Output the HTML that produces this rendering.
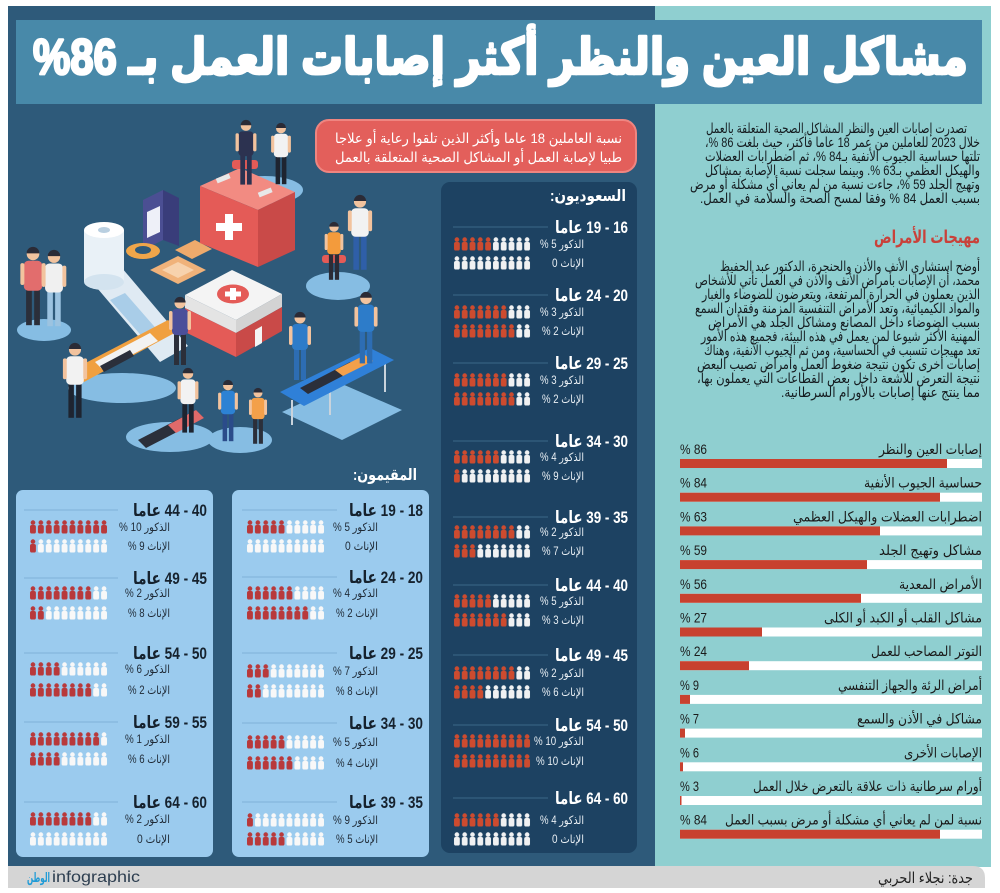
<!DOCTYPE html>
<html lang="ar"><head><meta charset="utf-8"><title>مشاكل العين والنظر أكثر إصابات العمل</title>
<style>
html,body{margin:0;padding:0;background:#fff;}
svg{display:block;}
svg text{direction:rtl;unicode-bidi:embed;text-anchor:middle;font-family:"Liberation Sans","DejaVu Sans",sans-serif;}
.w{fill:#ffffff}
.d{fill:#1f2a30}
.b{font-weight:bold}
.sl{fill:#e9eff4;font-size:11.5px}
.rl{fill:#1f2a36;font-size:11.5px}
.sh{fill:#ffffff;font-size:17px;font-weight:bold}
.rh{fill:#16222e;font-size:17px;font-weight:bold}
.p{fill:#151c20;font-size:14px}
.bl{fill:#1b1b1b;font-size:14px}
</style></head>
<body>
<svg width="1000" height="893" viewBox="0 0 1000 893" xmlns="http://www.w3.org/2000/svg">
<defs>
<pattern id="sr" width="7.8" height="14" patternUnits="userSpaceOnUse"><circle cx="3.9" cy="2.6" r="2.3" fill="#cd4b2f"/><rect x="1" y="5" width="5.8" height="8.5" rx="1.8" fill="#cd4b2f"/></pattern>
<pattern id="sw" width="7.8" height="14" patternUnits="userSpaceOnUse"><circle cx="3.9" cy="2.6" r="2.3" fill="#f0f1f2"/><rect x="1" y="5" width="5.8" height="8.5" rx="1.8" fill="#f0f1f2"/></pattern>
<pattern id="rr" width="7.9" height="14" patternUnits="userSpaceOnUse"><circle cx="3.95" cy="2.6" r="2.3" fill="#b8393b"/><rect x="1" y="5" width="5.9" height="8.5" rx="1.8" fill="#b8393b"/></pattern>
<pattern id="rw" width="7.9" height="14" patternUnits="userSpaceOnUse"><circle cx="3.95" cy="2.6" r="2.3" fill="#f8f8f8"/><rect x="1" y="5" width="5.9" height="8.5" rx="1.8" fill="#f8f8f8"/></pattern>
<g id="per">
 <rect x="-6" y="36" width="5" height="32" fill="var(--p)"/>
 <rect x="1" y="36" width="5" height="32" fill="var(--p)"/>
 <rect x="-8" y="12" width="16" height="26" rx="4" fill="var(--s)"/>
 <rect x="-11" y="14" width="3.5" height="19" rx="1.7" fill="#f2c39e"/>
 <rect x="7.5" y="14" width="3.5" height="19" rx="1.7" fill="#f2c39e"/>
 <circle cx="0" cy="6" r="5.5" fill="#f2c39e"/>
 <path d="M-5.6,5.5 A5.6,5.6 0 0 1 5.6,5.5 Z" fill="#2b2b36"/>
</g>
</defs>

<!-- panels -->
<rect x="8" y="6" width="647" height="861" fill="#2e5a7a"/>
<rect x="655" y="6" width="336" height="861" fill="#8fcfd0"/>
<rect x="16" y="20" width="966" height="84" fill="#4889a9"/>
<text x="500.5" y="74" textLength="935" lengthAdjust="spacingAndGlyphs" font-size="50" class="w b" stroke="#fff" stroke-width="2.6" stroke-linejoin="round">مشاكل العين والنظر أكثر إصابات العمل بـ 86%</text>

<!-- footer -->
<path d="M8,866 H973 Q985,866 985,878 V888 H8 Z" fill="#d5d5d5"/>
<text x="925.5" y="883" textLength="95" lengthAdjust="spacingAndGlyphs" font-size="15" fill="#222">جدة: نجلاء الحربي</text>
<text x="38.5" y="882" textLength="23" lengthAdjust="spacingAndGlyphs" font-size="13" class="b" fill="#1f9bd7">الوطن</text>
<text x="96" y="882" textLength="88" lengthAdjust="spacingAndGlyphs" font-size="16" fill="#2d3e50" style="direction:ltr">infographic</text>

<!-- illustration -->
<g fill="#86bde3">
<ellipse cx="265" cy="190" rx="38" ry="14"/>
<ellipse cx="338" cy="286" rx="32" ry="14"/>
<ellipse cx="44" cy="330" rx="27" ry="11"/>
<ellipse cx="170" cy="437" rx="44" ry="15"/>
<ellipse cx="240" cy="440" rx="32" ry="13"/>
<ellipse cx="122" cy="388" rx="54" ry="15"/>
<polygon points="282,412 342,384 402,410 342,440"/>
</g>
<!-- bandage strip & roll -->
<polygon points="92,282 122,268 188,346 160,362" fill="#dfeaf3"/>
<polygon points="110,300 125,293 160,333 146,341" fill="#a9cde8"/>
<rect x="84" y="230" width="40" height="52" fill="#e9f1f7"/>
<ellipse cx="104" cy="282" rx="20" ry="8" fill="#d3e3ef"/>
<ellipse cx="104" cy="230" rx="20" ry="8" fill="#ffffff"/>
<ellipse cx="104" cy="230" rx="6" ry="3" fill="#b9cfe0"/>
<!-- dispenser -->
<polygon points="143,200 163,190 163,240 143,250" fill="#4b4f93"/>
<polygon points="163,190 179,198 179,246 163,240" fill="#393d7a"/>
<polygon points="147,212 160,206 160,232 147,238" fill="#eef0f8"/>
<!-- tape & plasters -->
<ellipse cx="143" cy="251" rx="17" ry="8" fill="#f0a64a"/>
<ellipse cx="143" cy="250" rx="8" ry="4" fill="#2e5a7a"/>
<polygon points="150,270 178,256 206,270 178,284" fill="#f0b27a"/>
<polygon points="162,270 178,262 194,270 178,278" fill="#f7d2ad"/>
<polygon points="175,250 195,240 212,249 192,259" fill="#eeaa6c"/>
<!-- suitcase -->
<polygon points="200,186 240,168 295,192 258,210" fill="#f28b82"/>
<polygon points="200,186 258,210 258,267 200,243" fill="#e45b57"/>
<polygon points="258,210 295,192 295,250 258,267" fill="#c94a48"/>
<rect x="225" y="214" width="8" height="26" fill="#fff"/>
<rect x="216" y="223" width="26" height="8" fill="#fff"/>
<rect x="216" y="176" width="14" height="5" fill="#e8e8e8" transform="rotate(-22 223 178)"/>
<rect x="258" y="190" width="14" height="5" fill="#e8e8e8" transform="rotate(-22 265 192)"/>
<!-- white box -->
<polygon points="185,295 232,270 282,294 236,320" fill="#f4f4f4"/>
<polygon points="185,295 236,320 236,333 185,308" fill="#e4e4e4"/>
<polygon points="236,320 282,294 282,307 236,333" fill="#d3d3d3"/>
<polygon points="185,308 236,333 236,357 185,332" fill="#e45b57"/>
<polygon points="236,333 282,307 282,331 236,357" fill="#c94a48"/>
<ellipse cx="233" cy="294" rx="16" ry="9.5" fill="#e45b57"/>
<rect x="230" y="288" width="6" height="12" fill="#fff"/>
<rect x="225" y="291.5" width="16" height="5" fill="#fff"/>
<polygon points="255,330 262,326 262,343 255,347" fill="#f4f4f4"/>
<!-- chairs -->
<rect x="232" y="160" width="26" height="9" rx="3" fill="#e45b57"/>
<rect x="322" y="255" width="24" height="8" rx="3" fill="#e45b57"/>
<!-- people -->
<use href="#per" transform="translate(33,247) scale(1.15)" style="--s:#e26d6d;--p:#2b2f3a"/>
<use href="#per" transform="translate(54,250) scale(1.12)" style="--s:#f0f0f0;--p:#9cc3e0"/>
<use href="#per" transform="translate(246,120) scale(0.95)" style="--s:#2c3250;--p:#2c3250"/>
<use href="#per" transform="translate(281,123) scale(0.9)" style="--s:#f2f2f2;--p:#1e2430"/>
<use href="#per" transform="translate(360,195) scale(1.1)" style="--s:#f2f2f2;--p:#2f5fa8"/>
<use href="#per" transform="translate(334,222) scale(0.85)" style="--s:#f39b3c;--p:#2b2b36"/>
<polygon points="72,370 168,320 180,330 84,382" fill="#f0a040"/>
<polygon points="95,362 150,333 158,341 103,370" fill="#f2f2f2"/>
<polygon points="100,366 130,350 134,356 104,372" fill="#2b2f3a"/>
<use href="#per" transform="translate(180,297) scale(1)" style="--s:#4b4f9a;--p:#2b2f3a"/>
<use href="#per" transform="translate(75,343) scale(1.1)" style="--s:#f2f2f2;--p:#1e2430"/>
<polygon points="138,440 196,410 204,418 146,448" fill="#2b2f3a"/>
<polygon points="168,425 196,410 204,418 176,433" fill="#e06a6a"/>
<use href="#per" transform="translate(188,368) scale(0.95)" style="--s:#f2f2f2;--p:#1e2430"/>
<use href="#per" transform="translate(228,380) scale(0.9)" style="--s:#2d82d4;--p:#2b4c8a"/>
<use href="#per" transform="translate(258,388) scale(0.82)" style="--s:#f3a04a;--p:#2b2f3a"/>
<line x1="292" y1="400" x2="292" y2="425" stroke="#c9d3dc" stroke-width="2"/>
<line x1="385" y1="362" x2="385" y2="392" stroke="#c9d3dc" stroke-width="2"/>
<line x1="330" y1="385" x2="330" y2="415" stroke="#c9d3dc" stroke-width="2"/>
<polygon points="280,392 370,348 394,360 304,406" fill="#2f80d8"/>
<polygon points="300,388 350,362 358,368 308,394" fill="#2b2f3a"/>
<polygon points="335,370 365,355 373,361 343,376" fill="#f3a04a"/>
<use href="#per" transform="translate(300,312) scale(1)" style="--s:#2d7cc9;--p:#2d6db3"/>
<use href="#per" transform="translate(366,292) scale(1.05)" style="--s:#2d7cc9;--p:#2d6db3"/>

<!-- callout -->
<rect x="316" y="120" width="320" height="52" rx="13" fill="#e35f5b" stroke="#ef8580" stroke-width="2"/>
<text x="478.5" y="143" textLength="287" lengthAdjust="spacingAndGlyphs" font-size="14" class="w">نسبة العاملين 18 عاما وأكثر الذين تلقوا رعاية أو علاجا</text>
<text x="478.5" y="162" textLength="287" lengthAdjust="spacingAndGlyphs" font-size="14" class="w">طبيا لإصابة العمل أو المشاكل الصحية المتعلقة بالعمل</text>

<!-- Saudi box -->
<rect x="441" y="182" width="196" height="671" rx="9" fill="#1d4262"/>
<text x="588" y="201" textLength="76" lengthAdjust="spacingAndGlyphs" font-size="16" class="w b">السعوديون:</text>
<g stroke="#3c6888" stroke-width="1">
<line x1="453" x2="548" y1="227" y2="227"/><line x1="453" x2="548" y1="295" y2="295"/><line x1="453" x2="548" y1="363" y2="363"/>
<line x1="453" x2="548" y1="441" y2="441"/><line x1="453" x2="548" y1="517" y2="517"/><line x1="453" x2="548" y1="585" y2="585"/>
<line x1="453" x2="548" y1="655" y2="655"/><line x1="453" x2="548" y1="725" y2="725"/><line x1="453" x2="548" y1="798" y2="798"/>
</g>
<text x="591.5" y="233" textLength="73" lengthAdjust="spacingAndGlyphs" class="sh">16 - 19 عاما</text>
<text x="591.5" y="301" textLength="73" lengthAdjust="spacingAndGlyphs" class="sh">20 - 24 عاما</text>
<text x="591.5" y="369" textLength="73" lengthAdjust="spacingAndGlyphs" class="sh">25 - 29 عاما</text>
<text x="591.5" y="447" textLength="73" lengthAdjust="spacingAndGlyphs" class="sh">30 - 34 عاما</text>
<text x="591.5" y="523" textLength="73" lengthAdjust="spacingAndGlyphs" class="sh">35 - 39 عاما</text>
<text x="591.5" y="591" textLength="73" lengthAdjust="spacingAndGlyphs" class="sh">40 - 44 عاما</text>
<text x="591.5" y="661" textLength="73" lengthAdjust="spacingAndGlyphs" class="sh">45 - 49 عاما</text>
<text x="591.5" y="731" textLength="73" lengthAdjust="spacingAndGlyphs" class="sh">50 - 54 عاما</text>
<text x="591.5" y="804" textLength="73" lengthAdjust="spacingAndGlyphs" class="sh">60 - 64 عاما</text>
<!-- Saudi labels -->
<text x="562" y="248" textLength="44" lengthAdjust="spacingAndGlyphs" class="sl">الذكور 5 %</text>
<text x="568" y="267" textLength="32" lengthAdjust="spacingAndGlyphs" class="sl">الإناث 0</text>
<text x="562" y="316" textLength="44" lengthAdjust="spacingAndGlyphs" class="sl">الذكور 3 %</text>
<text x="563" y="335" textLength="42" lengthAdjust="spacingAndGlyphs" class="sl">الإناث 2 %</text>
<text x="562" y="384" textLength="44" lengthAdjust="spacingAndGlyphs" class="sl">الذكور 3 %</text>
<text x="563" y="403" textLength="42" lengthAdjust="spacingAndGlyphs" class="sl">الإناث 2 %</text>
<text x="562" y="461" textLength="44" lengthAdjust="spacingAndGlyphs" class="sl">الذكور 4 %</text>
<text x="563" y="480" textLength="42" lengthAdjust="spacingAndGlyphs" class="sl">الإناث 9 %</text>
<text x="562" y="536" textLength="44" lengthAdjust="spacingAndGlyphs" class="sl">الذكور 2 %</text>
<text x="563" y="555" textLength="42" lengthAdjust="spacingAndGlyphs" class="sl">الإناث 7 %</text>
<text x="562" y="605" textLength="44" lengthAdjust="spacingAndGlyphs" class="sl">الذكور 5 %</text>
<text x="563" y="624" textLength="42" lengthAdjust="spacingAndGlyphs" class="sl">الإناث 3 %</text>
<text x="562" y="677" textLength="44" lengthAdjust="spacingAndGlyphs" class="sl">الذكور 2 %</text>
<text x="563" y="696" textLength="42" lengthAdjust="spacingAndGlyphs" class="sl">الإناث 6 %</text>
<text x="559" y="745" textLength="50" lengthAdjust="spacingAndGlyphs" class="sl">الذكور 10 %</text>
<text x="560" y="765" textLength="48" lengthAdjust="spacingAndGlyphs" class="sl">الإناث 10 %</text>
<text x="562" y="824" textLength="44" lengthAdjust="spacingAndGlyphs" class="sl">الذكور 4 %</text>
<text x="568" y="843" textLength="32" lengthAdjust="spacingAndGlyphs" class="sl">الإناث 0</text>
<!-- Saudi icons -->
<g transform="translate(453,237)"><rect width="39" height="14" fill="url(#sr)"/><rect x="39" width="39" height="14" fill="url(#sw)"/></g>
<g transform="translate(453,256)"><rect width="78" height="14" fill="url(#sw)"/></g>
<g transform="translate(453,305)"><rect width="54.6" height="14" fill="url(#sr)"/><rect x="54.6" width="23.4" height="14" fill="url(#sw)"/></g>
<g transform="translate(453,324)"><rect width="62.4" height="14" fill="url(#sr)"/><rect x="62.4" width="15.6" height="14" fill="url(#sw)"/></g>
<g transform="translate(453,373)"><rect width="54.6" height="14" fill="url(#sr)"/><rect x="54.6" width="23.4" height="14" fill="url(#sw)"/></g>
<g transform="translate(453,392)"><rect width="62.4" height="14" fill="url(#sr)"/><rect x="62.4" width="15.6" height="14" fill="url(#sw)"/></g>
<g transform="translate(453,450)"><rect width="46.8" height="14" fill="url(#sr)"/><rect x="46.8" width="31.2" height="14" fill="url(#sw)"/></g>
<g transform="translate(453,469)"><rect width="7.8" height="14" fill="url(#sr)"/><rect x="7.8" width="70.2" height="14" fill="url(#sw)"/></g>
<g transform="translate(453,525)"><rect width="62.4" height="14" fill="url(#sr)"/><rect x="62.4" width="15.6" height="14" fill="url(#sw)"/></g>
<g transform="translate(453,544)"><rect width="23.4" height="14" fill="url(#sr)"/><rect x="23.4" width="54.6" height="14" fill="url(#sw)"/></g>
<g transform="translate(453,594)"><rect width="39" height="14" fill="url(#sr)"/><rect x="39" width="39" height="14" fill="url(#sw)"/></g>
<g transform="translate(453,613)"><rect width="54.6" height="14" fill="url(#sr)"/><rect x="54.6" width="23.4" height="14" fill="url(#sw)"/></g>
<g transform="translate(453,666)"><rect width="62.4" height="14" fill="url(#sr)"/><rect x="62.4" width="15.6" height="14" fill="url(#sw)"/></g>
<g transform="translate(453,685)"><rect width="31.2" height="14" fill="url(#sr)"/><rect x="31.2" width="46.8" height="14" fill="url(#sw)"/></g>
<g transform="translate(453,734)"><rect width="78" height="14" fill="url(#sr)"/></g>
<g transform="translate(453,754)"><rect width="78" height="14" fill="url(#sr)"/></g>
<g transform="translate(453,813)"><rect width="46.8" height="14" fill="url(#sr)"/><rect x="46.8" width="31.2" height="14" fill="url(#sw)"/></g>
<g transform="translate(453,832)"><rect width="78" height="14" fill="url(#sw)"/></g>

<!-- Residents -->
<text x="385" y="480" textLength="64" lengthAdjust="spacingAndGlyphs" font-size="16" class="w b">المقيمون:</text>
<rect x="16" y="490" width="197" height="367" rx="7" fill="#9bcbee"/>
<rect x="232" y="490" width="197" height="367" rx="7" fill="#9bcbee"/>
<g stroke="#7fb2d8" stroke-width="1">
<line x1="242" x2="337" y1="510" y2="510"/><line x1="242" x2="337" y1="577" y2="577"/><line x1="242" x2="337" y1="653" y2="653"/><line x1="242" x2="337" y1="723" y2="723"/><line x1="242" x2="337" y1="802" y2="802"/>
<line x1="24" x2="118" y1="510" y2="510"/><line x1="24" x2="118" y1="578" y2="578"/><line x1="24" x2="118" y1="653" y2="653"/><line x1="24" x2="118" y1="722" y2="722"/><line x1="24" x2="118" y1="802" y2="802"/>
</g>
<text x="386" y="516" textLength="74" lengthAdjust="spacingAndGlyphs" class="rh">18 - 19 عاما</text>
<text x="386" y="583" textLength="74" lengthAdjust="spacingAndGlyphs" class="rh">20 - 24 عاما</text>
<text x="386" y="659" textLength="74" lengthAdjust="spacingAndGlyphs" class="rh">25 - 29 عاما</text>
<text x="386" y="729" textLength="74" lengthAdjust="spacingAndGlyphs" class="rh">30 - 34 عاما</text>
<text x="386" y="808" textLength="74" lengthAdjust="spacingAndGlyphs" class="rh">35 - 39 عاما</text>
<text x="170" y="516" textLength="74" lengthAdjust="spacingAndGlyphs" class="rh">40 - 44 عاما</text>
<text x="170" y="584" textLength="74" lengthAdjust="spacingAndGlyphs" class="rh">45 - 49 عاما</text>
<text x="170" y="659" textLength="74" lengthAdjust="spacingAndGlyphs" class="rh">50 - 54 عاما</text>
<text x="170" y="728" textLength="74" lengthAdjust="spacingAndGlyphs" class="rh">55 - 59 عاما</text>
<text x="170" y="808" textLength="74" lengthAdjust="spacingAndGlyphs" class="rh">60 - 64 عاما</text>
<!-- resident labels right box -->
<text x="355.5" y="531" textLength="45" lengthAdjust="spacingAndGlyphs" class="rl">الذكور 5 %</text>
<text x="361.5" y="550" textLength="33" lengthAdjust="spacingAndGlyphs" class="rl">الإناث 0</text>
<text x="355.5" y="597" textLength="45" lengthAdjust="spacingAndGlyphs" class="rl">الذكور 4 %</text>
<text x="357" y="617" textLength="42" lengthAdjust="spacingAndGlyphs" class="rl">الإناث 2 %</text>
<text x="355.5" y="675" textLength="45" lengthAdjust="spacingAndGlyphs" class="rl">الذكور 7 %</text>
<text x="357" y="695" textLength="42" lengthAdjust="spacingAndGlyphs" class="rl">الإناث 8 %</text>
<text x="355.5" y="746" textLength="45" lengthAdjust="spacingAndGlyphs" class="rl">الذكور 5 %</text>
<text x="357" y="767" textLength="42" lengthAdjust="spacingAndGlyphs" class="rl">الإناث 4 %</text>
<text x="355.5" y="824" textLength="45" lengthAdjust="spacingAndGlyphs" class="rl">الذكور 9 %</text>
<text x="357" y="843" textLength="42" lengthAdjust="spacingAndGlyphs" class="rl">الإناث 5 %</text>
<!-- resident labels left box -->
<text x="144.5" y="531" textLength="51" lengthAdjust="spacingAndGlyphs" class="rl">الذكور 10 %</text>
<text x="149" y="550" textLength="42" lengthAdjust="spacingAndGlyphs" class="rl">الإناث 9 %</text>
<text x="147.5" y="597" textLength="45" lengthAdjust="spacingAndGlyphs" class="rl">الذكور 2 %</text>
<text x="149" y="617" textLength="42" lengthAdjust="spacingAndGlyphs" class="rl">الإناث 8 %</text>
<text x="147.5" y="673" textLength="45" lengthAdjust="spacingAndGlyphs" class="rl">الذكور 6 %</text>
<text x="149" y="694" textLength="42" lengthAdjust="spacingAndGlyphs" class="rl">الإناث 2 %</text>
<text x="147.5" y="743" textLength="45" lengthAdjust="spacingAndGlyphs" class="rl">الذكور 1 %</text>
<text x="149" y="763" textLength="42" lengthAdjust="spacingAndGlyphs" class="rl">الإناث 6 %</text>
<text x="147.5" y="823" textLength="45" lengthAdjust="spacingAndGlyphs" class="rl">الذكور 2 %</text>
<text x="153.5" y="843" textLength="33" lengthAdjust="spacingAndGlyphs" class="rl">الإناث 0</text>
<!-- resident icons right box -->
<g transform="translate(246,520)"><rect width="39.5" height="14" fill="url(#rr)"/><rect x="39.5" width="39.5" height="14" fill="url(#rw)"/></g>
<g transform="translate(246,539)"><rect width="79" height="14" fill="url(#rw)"/></g>
<g transform="translate(246,586)"><rect width="47.4" height="14" fill="url(#rr)"/><rect x="47.4" width="31.6" height="14" fill="url(#rw)"/></g>
<g transform="translate(246,606)"><rect width="63.2" height="14" fill="url(#rr)"/><rect x="63.2" width="15.8" height="14" fill="url(#rw)"/></g>
<g transform="translate(246,664)"><rect width="23.7" height="14" fill="url(#rr)"/><rect x="23.7" width="55.3" height="14" fill="url(#rw)"/></g>
<g transform="translate(246,684)"><rect width="15.8" height="14" fill="url(#rr)"/><rect x="15.8" width="63.2" height="14" fill="url(#rw)"/></g>
<g transform="translate(246,735)"><rect width="39.5" height="14" fill="url(#rr)"/><rect x="39.5" width="39.5" height="14" fill="url(#rw)"/></g>
<g transform="translate(246,756)"><rect width="47.4" height="14" fill="url(#rr)"/><rect x="47.4" width="31.6" height="14" fill="url(#rw)"/></g>
<g transform="translate(246,813)"><rect width="7.9" height="14" fill="url(#rr)"/><rect x="7.9" width="71.1" height="14" fill="url(#rw)"/></g>
<g transform="translate(246,832)"><rect width="39.5" height="14" fill="url(#rr)"/><rect x="39.5" width="39.5" height="14" fill="url(#rw)"/></g>
<!-- resident icons left box -->
<g transform="translate(29,520)"><rect width="79" height="14" fill="url(#rr)"/></g>
<g transform="translate(29,539)"><rect width="7.9" height="14" fill="url(#rr)"/><rect x="7.9" width="71.1" height="14" fill="url(#rw)"/></g>
<g transform="translate(29,586)"><rect width="63.2" height="14" fill="url(#rr)"/><rect x="63.2" width="15.8" height="14" fill="url(#rw)"/></g>
<g transform="translate(29,606)"><rect width="15.8" height="14" fill="url(#rr)"/><rect x="15.8" width="63.2" height="14" fill="url(#rw)"/></g>
<g transform="translate(29,662)"><rect width="31.6" height="14" fill="url(#rr)"/><rect x="31.6" width="47.4" height="14" fill="url(#rw)"/></g>
<g transform="translate(29,683)"><rect width="63.2" height="14" fill="url(#rr)"/><rect x="63.2" width="15.8" height="14" fill="url(#rw)"/></g>
<g transform="translate(29,732)"><rect width="71.1" height="14" fill="url(#rr)"/><rect x="71.1" width="7.9" height="14" fill="url(#rw)"/></g>
<g transform="translate(29,752)"><rect width="31.6" height="14" fill="url(#rr)"/><rect x="31.6" width="47.4" height="14" fill="url(#rw)"/></g>
<g transform="translate(29,812)"><rect width="63.2" height="14" fill="url(#rr)"/><rect x="63.2" width="15.8" height="14" fill="url(#rw)"/></g>
<g transform="translate(29,832)"><rect width="79" height="14" fill="url(#rw)"/></g>

<!-- right column paragraphs -->
<text x="836.5" y="133" textLength="261" lengthAdjust="spacingAndGlyphs" class="p">تصدرت إصابات العين والنظر المشاكل الصحية المتعلقة بالعمل</text>
<text x="842.5" y="147" textLength="275" lengthAdjust="spacingAndGlyphs" class="p">خلال 2023 للعاملين من عمر 18 عاما فأكثر، حيث بلغت 86 %،</text>
<text x="842.5" y="161" textLength="275" lengthAdjust="spacingAndGlyphs" class="p">تلتها حساسية الجيوب الأنفية بـ84 %، ثم اضطرابات العضلات</text>
<text x="842.5" y="175" textLength="275" lengthAdjust="spacingAndGlyphs" class="p">والهيكل العظمي بـ63 %. وبينما سجلت نسبة الإصابة بمشاكل</text>
<text x="835" y="189" textLength="290" lengthAdjust="spacingAndGlyphs" class="p">وتهيج الجلد 59 %، جاءت نسبة من لم يعاني أي مشكلة أو مرض</text>
<text x="840" y="203" textLength="280" lengthAdjust="spacingAndGlyphs" class="p">بسبب العمل 84 % وفقا لمسح الصحة والسلامة في العمل.</text>
<text x="927" y="243" textLength="106" lengthAdjust="spacingAndGlyphs" font-size="18" class="b" fill="#c9413a">مهيجات الأمراض</text>
<text x="850" y="271" textLength="260" lengthAdjust="spacingAndGlyphs" class="p">أوضح استشاري الأنف والأذن والحنجرة، الدكتور عبد الحفيظ</text>
<text x="837.5" y="285" textLength="285" lengthAdjust="spacingAndGlyphs" class="p">محمد، أن الإصابات بأمراض الأنف والأذن في العمل تأتي للأشخاص</text>
<text x="841" y="299" textLength="278" lengthAdjust="spacingAndGlyphs" class="p">الذين يعملون في الحرارة المرتفعة، ويتعرضون للضوضاء والغبار</text>
<text x="837.5" y="313" textLength="285" lengthAdjust="spacingAndGlyphs" class="p">والمواد الكيميائية، وتعد الأمراض التنفسية المزمنة وفقدان السمع</text>
<text x="844" y="327" textLength="272" lengthAdjust="spacingAndGlyphs" class="p">بسبب الضوضاء داخل المصانع ومشاكل الجلد هي الأمراض</text>
<text x="840.5" y="341" textLength="279" lengthAdjust="spacingAndGlyphs" class="p">المهنية الأكثر شيوعا لمن يعمل في هذه البيئة، فجميع هذه الأمور</text>
<text x="842" y="355" textLength="276" lengthAdjust="spacingAndGlyphs" class="p">تعد مهيجات تتسبب في الحساسية، ومن ثم الجيوب الأنفية، وهناك</text>
<text x="838.5" y="369" textLength="283" lengthAdjust="spacingAndGlyphs" class="p">إصابات أخرى تكون نتيجة ضغوط العمل وأمراض تصيب البعض</text>
<text x="838.5" y="383" textLength="283" lengthAdjust="spacingAndGlyphs" class="p">نتيجة التعرض للأشعة داخل بعض القطاعات التي يعملون بها،</text>
<text x="880.5" y="397" textLength="199" lengthAdjust="spacingAndGlyphs" class="p">مما ينتج عنها إصابات بالأورام السرطانية.</text>

<!-- bar chart -->
<g fill="#ffffff">
<rect x="680" y="459" width="302" height="9"/><rect x="680" y="492.7" width="302" height="9"/><rect x="680" y="526.4" width="302" height="9"/>
<rect x="680" y="560.1" width="302" height="9"/><rect x="680" y="593.8" width="302" height="9"/><rect x="680" y="627.5" width="302" height="9"/>
<rect x="680" y="661.2" width="302" height="9"/><rect x="680" y="694.9" width="302" height="9"/><rect x="680" y="728.6" width="302" height="9"/>
<rect x="680" y="762.3" width="302" height="9"/><rect x="680" y="796" width="302" height="9"/><rect x="680" y="829.7" width="302" height="9"/>
</g>
<g fill="#c8412f">
<rect x="680" y="459" width="267" height="9"/><rect x="680" y="492.7" width="260" height="9"/><rect x="680" y="526.4" width="200" height="9"/>
<rect x="680" y="560.1" width="187" height="9"/><rect x="680" y="593.8" width="181" height="9"/><rect x="680" y="627.5" width="82" height="9"/>
<rect x="680" y="661.2" width="69" height="9"/><rect x="680" y="694.9" width="10" height="9"/><rect x="680" y="728.6" width="5" height="9"/>
<rect x="680" y="762.3" width="3" height="9"/><rect x="680" y="796" width="1.5" height="9"/><rect x="680" y="829.7" width="260" height="9"/>
</g>
<text x="930.5" y="454" textLength="103" lengthAdjust="spacingAndGlyphs" class="bl">إصابات العين والنظر</text>
<text x="923" y="487.7" textLength="118" lengthAdjust="spacingAndGlyphs" class="bl">حساسية الجيوب الأنفية</text>
<text x="887.5" y="521.4" textLength="189" lengthAdjust="spacingAndGlyphs" class="bl">اضطرابات العضلات والهيكل العظمي</text>
<text x="930.5" y="555.1" textLength="103" lengthAdjust="spacingAndGlyphs" class="bl">مشاكل وتهيج الجلد</text>
<text x="940.5" y="588.8" textLength="83" lengthAdjust="spacingAndGlyphs" class="bl">الأمراض المعدية</text>
<text x="903" y="622.5" textLength="158" lengthAdjust="spacingAndGlyphs" class="bl">مشاكل القلب أو الكبد أو الكلى</text>
<text x="926.5" y="656.2" textLength="111" lengthAdjust="spacingAndGlyphs" class="bl">التوتر المصاحب للعمل</text>
<text x="910" y="689.9" textLength="144" lengthAdjust="spacingAndGlyphs" class="bl">أمراض الرئة والجهاز التنفسي</text>
<text x="919.5" y="723.6" textLength="125" lengthAdjust="spacingAndGlyphs" class="bl">مشاكل في الأذن والسمع</text>
<text x="943" y="757.3" textLength="78" lengthAdjust="spacingAndGlyphs" class="bl">الإصابات الأخرى</text>
<text x="867.5" y="791" textLength="229" lengthAdjust="spacingAndGlyphs" class="bl">أورام سرطانية ذات علاقة بالتعرض خلال العمل</text>
<text x="853.5" y="824.7" textLength="257" lengthAdjust="spacingAndGlyphs" class="bl">نسبة لمن لم يعاني أي مشكلة أو مرض بسبب العمل</text>
<text x="693.5" y="454" textLength="27" lengthAdjust="spacingAndGlyphs" class="bl">86 %</text>
<text x="693.5" y="487.7" textLength="27" lengthAdjust="spacingAndGlyphs" class="bl">84 %</text>
<text x="693.5" y="521.4" textLength="27" lengthAdjust="spacingAndGlyphs" class="bl">63 %</text>
<text x="693.5" y="555.1" textLength="27" lengthAdjust="spacingAndGlyphs" class="bl">59 %</text>
<text x="693.5" y="588.8" textLength="27" lengthAdjust="spacingAndGlyphs" class="bl">56 %</text>
<text x="693.5" y="622.5" textLength="27" lengthAdjust="spacingAndGlyphs" class="bl">27 %</text>
<text x="693.5" y="656.2" textLength="27" lengthAdjust="spacingAndGlyphs" class="bl">24 %</text>
<text x="689.5" y="689.9" textLength="19" lengthAdjust="spacingAndGlyphs" class="bl">9 %</text>
<text x="689.5" y="723.6" textLength="19" lengthAdjust="spacingAndGlyphs" class="bl">7 %</text>
<text x="689.5" y="757.3" textLength="19" lengthAdjust="spacingAndGlyphs" class="bl">6 %</text>
<text x="689.5" y="791" textLength="19" lengthAdjust="spacingAndGlyphs" class="bl">3 %</text>
<text x="693.5" y="824.7" textLength="27" lengthAdjust="spacingAndGlyphs" class="bl">84 %</text>
</svg>
</body></html>
